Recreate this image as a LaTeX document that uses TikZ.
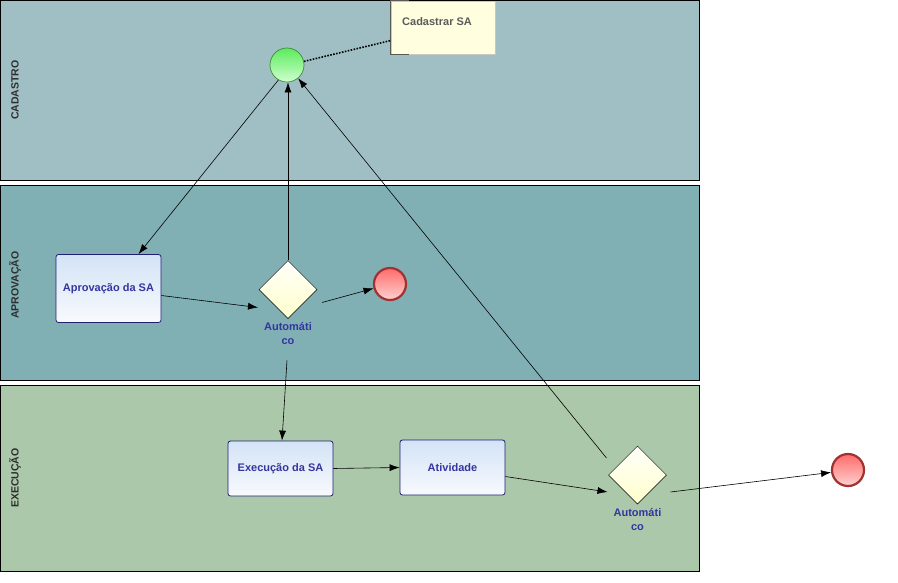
\documentclass[tikz,border=0pt]{standalone}
\usepackage{fontspec}
\setmainfont{Liberation Sans}
\usetikzlibrary{shapes.geometric,arrows.meta,calc}
\definecolor{laneA}{HTML}{A0BFC4}
\definecolor{laneB}{HTML}{80AFB4}
\definecolor{laneC}{HTML}{ABC8AA}
\definecolor{taskline}{HTML}{1E1E72}
\definecolor{tasktop}{HTML}{D3E3F6}
\definecolor{taskbot}{HTML}{F8FAFD}
\definecolor{tasktxt}{HTML}{3535A0}
\definecolor{lanetxt}{HTML}{2E2E2E}
\definecolor{notefill}{HTML}{FFFFE0}
\definecolor{notetxt}{HTML}{5A5A5A}
\definecolor{gatetop}{HTML}{FFFFFA}
\definecolor{gatebot}{HTML}{FFFFCC}
\definecolor{starttop}{HTML}{5CEB5C}
\definecolor{startbot}{HTML}{CFFFCF}
\definecolor{startline}{HTML}{3F8A3F}
\definecolor{endtop}{HTML}{FF6A6A}
\definecolor{endbot}{HTML}{FFD2D2}
\definecolor{endline}{HTML}{A03232}
\begin{document}
\begin{tikzpicture}[x=1pt,y=-1pt,
  font=\fontsize{11}{13}\selectfont\bfseries,
  lane/.style={draw=black,line width=0.8pt},
  lanelabel/.style={rotate=90,text=lanetxt,font=\fontsize{10.5}{12}\selectfont\bfseries},
  task/.style={draw=taskline,line width=0.8pt,rounded corners=2.5pt,
    top color=tasktop,bottom color=taskbot,
    minimum width=105pt,minimum height=68pt,inner sep=0pt,text=tasktxt},
  gate/.style={diamond,draw=black,line width=0.5pt,top color=gatetop,bottom color=gatebot,
    minimum width=58pt,minimum height=58pt,inner sep=0pt,shape aspect=1},
  gatelabel/.style={text=tasktxt,align=center,inner sep=0pt,font=\fontsize{11}{14}\selectfont\bfseries},
  startev/.style={circle,draw=startline,line width=0.7pt,top color=starttop,bottom color=startbot,
    minimum size=34pt,inner sep=0pt},
  endev/.style={circle,draw=endline,line width=2.2pt,top color=endtop,bottom color=endbot,
    minimum size=32pt,inner sep=0pt},
  flow/.style={draw=black,line width=0.6pt,-{Latex[length=10pt,width=7pt]}},
  assoc/.style={draw=black,line width=1.6pt,dash pattern=on 1.6pt off 1.4pt}
]
% canvas
\useasboundingbox (0,0) rectangle (898,582);
\fill[white] (0,0) rectangle (898,582);

% swimlanes
\path[lane,fill=laneA] (0.5,0.5) rectangle (699.5,180.5);
\path[lane,fill=laneB] (0.5,185.5) rectangle (699.5,380.5);
\path[lane,fill=laneC] (0.5,385.5) rectangle (699.5,571.5);
\node[lanelabel] (lblA) at (15,90) {CADASTRO};
\node[lanelabel] (lblB) at (15,285) {APROVAÇÃO};
\node[lanelabel] (lblC) at (15,478) {EXECUÇÃO};

% text annotation
\node[draw=black!22,fill=notefill,minimum width=104pt,minimum height=53pt,inner sep=0pt] (note) at (443,27.5) {};
\node[text=notetxt,anchor=west,inner sep=0pt] (notetext) at (402,22) {Cadastrar SA};
\draw[black!65,line width=0.8pt] ([xshift=18pt]note.north west) -- (note.north west) -- (note.south west) -- ([xshift=18pt]note.south west);

% events, tasks, gateways
\node[startev] (st) at (287,65) {};
\node[task] (t1) at (108.5,288.5) {Aprovação da SA};
\node[gate] (g1) at (288,289.5) {};
\node[gatelabel] (g1l) at (288,334) {Automáti\\co};
\node[endev] (e1) at (390,284) {};
\node[task,minimum height=55pt] (t3) at (280.5,468.5) {Execução da SA};
\node[task,minimum height=55pt] (t4) at (452.5,467.5) {Atividade};
\node[gate] (g2) at (637.5,475) {};
\node[gatelabel] (g2l) at (637.5,520) {Automáti\\co};
\node[endev] (e2) at (848,470) {};

% association
\draw[assoc] (st.12) -- ([yshift=-13pt]note.west);

% sequence flows
\draw[flow] (st.240) -- ([xshift=30pt]t1.north);
\draw[flow] ([yshift=-7pt]t1.east) -- ($(g1)+(-30,18)$);
\draw[flow] ($(g1)+(34,13)$) -- (e1.195);
\draw[flow] (g1.north) -- (g1.north |- st.south);
\draw[flow] ($(g1)+(-1,71)$) -- ([xshift=1.5pt]t3.north);
\draw[flow] (t3.east) -- (t4.west);
\draw[flow] ([yshift=-9pt]t4.east) -- ($(g2)+(-30,17)$);
\draw[flow] ($(g2)+(-31,-17)$) -- (st.-50);
\draw[flow] ($(g2)+(33,17)$) -- (e2.188);
\end{tikzpicture}
\end{document}
